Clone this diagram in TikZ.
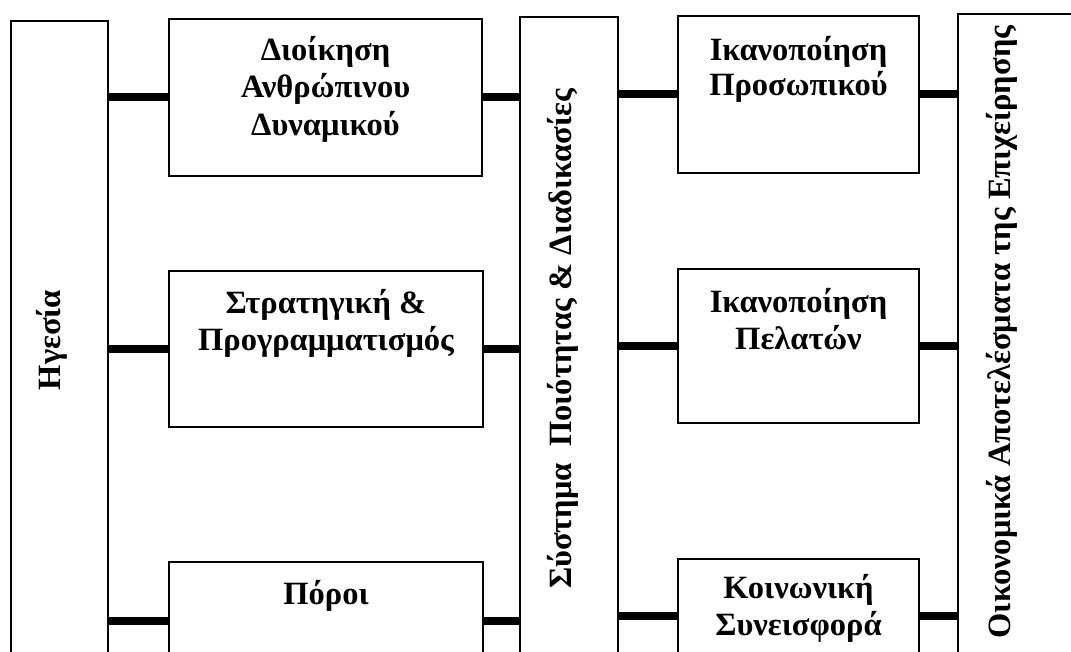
\documentclass[tikz,border=0pt]{standalone}
\usepackage{fontspec}
\setmainfont{Liberation Serif}
\usetikzlibrary{positioning}

\begin{document}
\begin{tikzpicture}[x=1pt,y=-1pt,
    box/.style={draw,line width=2pt,anchor=north west,inner sep=0pt},
    txt/.style={font=\fontsize{32.5}{37.5}\selectfont\bfseries,align=center,inner sep=0pt},
    conn/.style={line width=8pt}]
    \useasboundingbox (0,0) rectangle (1071,652);
    \clip (0,0) rectangle (1071,652);
    %Leadership
    \node[box,minimum width=97pt,minimum height=700pt] (lead) at (10,20) {};
    \node[txt,rotate=90] (leadtxt) at (52,340) {Ηγεσία};
    %Enablers
    \node[box,minimum width=313pt,minimum height=157pt] (hr) at (168,18) {};
    \node[txt,below=18pt of hr.north] (hrtxt) {Διοίκηση\\Ανθρώπινου\\Δυναμικού};
    \node[box,minimum width=314pt,minimum height=156pt] (strat) at (168,270) {};
    \node[txt,below=19pt of strat.north] (strattxt) {Στρατηγική \&\\Προγραμματισμός};
    \node[box,minimum width=314pt,minimum height=118pt] (res) at (168,561) {};
    \node[txt,below=19pt of res.north] (restxt) {Πόροι};
    %Quality system
    \node[box,minimum width=98pt,minimum height=700pt] (qual) at (519,16) {};
    \node[txt,rotate=90] (qualtxt) at (563,339) {Σύστημα\ \ Ποιότητας \& Διαδικασίες};
    %Results
    \node[box,minimum width=241pt,minimum height=157pt] (staff) at (677,15) {};
    \node[txt,below=21pt of staff.north] (stafftxt) {Ικανοποίηση\\[-2pt]Προσωπικού};
    \node[box,minimum width=241pt,minimum height=154pt] (cust) at (677,268) {};
    \node[txt,below=20pt of cust.north] (custtxt) {Ικανοποίηση\\Πελατών};
    \node[box,minimum width=241pt,minimum height=114pt] (soc) at (677,558) {};
    \node[txt,below=16pt of soc.north] (soctxt) {Κοινωνική\\Συνεισφορά};
    %Financial results
    \node[box,minimum width=150pt,minimum height=700pt] (fin) at (957,13) {};
    \node[txt,rotate=90] (fintxt) at (1002,332) {Οικονομικά Αποτελέσματα της Επιχείρησης};
    %Connectors
    \draw[conn] (lead.east |- hr.west) -- (hr.west);
    \draw[conn] (lead.east |- strat.west) -- (strat.west);
    \draw[conn] (lead.east |- res.west) -- (res.west);
    \draw[conn] (hr.east) -- (hr.east -| qual.west);
    \draw[conn] (strat.east) -- (strat.east -| qual.west);
    \draw[conn] (res.east) -- (res.east -| qual.west);
    \draw[conn] (qual.east |- staff.west) -- (staff.west);
    \draw[conn] (qual.east |- cust.west) -- (cust.west);
    \draw[conn] (qual.east |- soc.west) -- (soc.west);
    \draw[conn] (staff.east) -- (staff.east -| fin.west);
    \draw[conn] (cust.east) -- (cust.east -| fin.west);
    \draw[conn] (soc.east) -- (soc.east -| fin.west);
\end{tikzpicture}
\end{document}
